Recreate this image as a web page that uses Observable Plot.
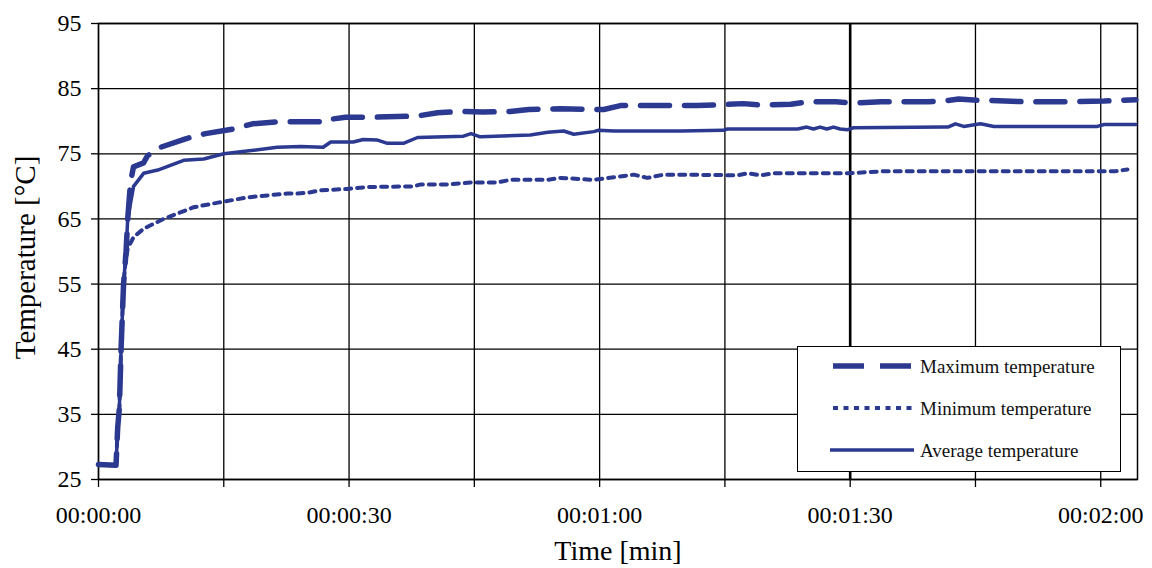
<!DOCTYPE html>
<html>
<head>
<meta charset="utf-8">
<script src="https://cdn.jsdelivr.net/npm/d3@7"></script>
<script src="https://cdn.jsdelivr.net/npm/@observablehq/plot@0.6"></script>
<style>
  html, body { margin: 0; padding: 0; background: #fff; }
  #wrap { position: relative; width: 1152px; height: 568px; }
  #legend { position: absolute; left: 797px; top: 346px; width: 324px; height: 126px;
            border: 1.5px solid #000; background: #fff; box-sizing: border-box; }
</style>
</head>
<body>
<div id="wrap"><div id="chart"></div><div id="legend"></div></div>
<script>
// ---- data (time in seconds, temperature in °C) ----
const avgT = [0, 2.1, 2.3, 2.5, 2.7, 3.0, 3.3, 3.5, 4.2, 5.4, 7.1, 10.2, 12.6, 15.0, 17.0, 21.4, 24.2, 26.9, 27.8, 30.5, 31.7, 33.4, 34.6, 36.5, 38.2, 43.7, 44.6, 45.7, 51.7, 53.8, 55.7, 56.9, 59.3, 59.8, 61.7, 69.7, 74.8, 75.3, 83.7, 84.8, 85.6, 86.4, 87.2, 88.0, 88.8, 89.7, 90.4, 101.2, 101.7, 102.6, 103.6, 105.6, 107.2, 119.6, 120.4, 124.2];
const avgV = [27.3, 27.2, 33, 36, 45, 55, 60, 65, 70, 72, 72.5, 74, 74.2, 75, 75.3, 76, 76.1, 76.0, 76.8, 76.8, 77.2, 77.1, 76.6, 76.6, 77.5, 77.7, 78.1, 77.6, 77.9, 78.3, 78.5, 78.0, 78.4, 78.6, 78.5, 78.5, 78.6, 78.8, 78.8, 79.1, 78.8, 79.1, 78.8, 79.1, 78.8, 78.7, 79.0, 79.1, 79.1, 79.6, 79.2, 79.6, 79.2, 79.2, 79.5, 79.5];

const maxT = [0, 2.1, 2.3, 2.5, 2.7, 3.0, 3.3, 3.5, 3.83, 4.19, 5.39, 5.87, 7.43, 10.42, 12.81, 16.17, 18.44, 21.56, 26.9, 27.2, 29.6, 32.6, 38.2, 40.6, 43.7, 46.0, 49.3, 51.5, 55.3, 60.5, 62.5, 71.7, 73.9, 77.2, 79.3, 82.9, 84.9, 88.3, 90.3, 93.7, 99.3, 101.2, 103.0, 105.3, 106.8, 110.7, 116.0, 120.4, 124.2];
const maxV = [27.3, 27.2, 33, 36, 45, 55, 60, 65, 70.6, 73, 73.6, 74.7, 76, 77.3, 78.1, 78.8, 79.6, 79.9, 79.9, 80.2, 80.6, 80.6, 80.8, 81.3, 81.5, 81.4, 81.5, 81.8, 81.9, 81.8, 82.4, 82.4, 82.5, 82.7, 82.5, 82.6, 83.0, 83.0, 82.8, 83.0, 83.0, 83.1, 83.4, 83.2, 83.2, 83.0, 83.0, 83.1, 83.3];

const minT = [0, 2.1, 2.3, 2.5, 2.7, 3.0, 3.2, 3.5, 4.2, 5.4, 7.8, 11.4, 14.3, 17.8, 22.6, 23.8, 25.0, 26.6, 29.8, 32.2, 37.7, 38.6, 41.8, 44.6, 47.8, 49.3, 53.8, 55.3, 59.3, 61.7, 64.1, 65.7, 67.7, 69.7, 76.5, 77.7, 79.3, 80.8, 89.7, 93.7, 121.6, 123.2];
const minV = [27.3, 27.2, 33, 36, 45, 55, 58, 60.5, 62.2, 63.5, 65, 66.8, 67.5, 68.3, 68.9, 68.9, 69, 69.4, 69.6, 69.9, 70, 70.3, 70.3, 70.6, 70.6, 71, 71, 71.3, 71, 71.4, 71.8, 71.3, 71.8, 71.8, 71.7, 72, 71.7, 72, 72, 72.3, 72.3, 72.6];

const yTicks = [25, 35, 45, 55, 65, 75, 85, 95];
const xTicks = [0, 15, 30, 45, 60, 75, 90, 105, 120];
const seriesNames = ["Maximum temperature", "Minimum temperature", "Average temperature"];
const yLabel = "Temperature [°C]";
const xLabel = "Time [min]";

const color = "#2b3990";
const font = "'Liberation Serif', 'Times New Roman', serif";

const rows = (ts, vs) => ts.map((t, i) => ({t, v: vs[i]}));
const pad = n => String(n).padStart(2, "0");
const fmt = s => (s % 30 === 0) ? `${pad(Math.floor(s / 3600))}:${pad(Math.floor(s / 60) % 60)}:${pad(s % 60)}` : "";

const chart = Plot.plot({
  width: 1152,
  height: 568,
  marginLeft: 98,
  marginRight: 15,
  marginTop: 23,
  marginBottom: 89,
  style: {fontFamily: font, background: "#fff", color: "#000"},
  x: {domain: [0, 124.4], type: "linear"},
  y: {domain: [25, 95]},
  marks: [
    Plot.gridY(yTicks, {stroke: "#000", strokeOpacity: 1, strokeWidth: 1.3}),
    Plot.gridX(xTicks, {stroke: "#000", strokeOpacity: 1, strokeWidth: 1.3}),
    Plot.ruleX([90], {stroke: "#000", strokeWidth: 2.6}),
    Plot.frame({stroke: "#000", strokeWidth: 1.5}),
    Plot.axisY({ticks: yTicks, tickSize: 7, tickPadding: 10, fontSize: 24, label: null, stroke: "#000", strokeWidth: 1.3}),
    Plot.axisX({ticks: xTicks, tickFormat: fmt, tickSize: 8, tickPadding: 18, fontSize: 24, label: null, stroke: "#000", strokeWidth: 1.3}),
    Plot.text([yLabel], {frameAnchor: "left", dx: -73, dy: 6, rotate: -90, textAnchor: "middle", lineAnchor: "middle", fontSize: 29, fill: "#000"}),
    Plot.text([xLabel], {frameAnchor: "bottom", dy: 72, lineAnchor: "middle", fontSize: 28, fill: "#000"}),
    Plot.line(rows(maxT, maxV), {x: "t", y: "v", stroke: color, strokeWidth: 5.5, strokeDasharray: "29,15", strokeLinejoin: "round"}),
    Plot.line(rows(minT, minV), {x: "t", y: "v", stroke: color, strokeWidth: 4, strokeDasharray: "6,6"}),
    Plot.line(rows(avgT, avgV), {x: "t", y: "v", stroke: color, strokeWidth: 3.5, strokeLinejoin: "round"})
  ]
});
document.getElementById("chart").appendChild(chart);

// legend (overlay)
const ns = "http://www.w3.org/2000/svg";
const lg = document.createElementNS(ns, "svg");
lg.setAttribute("width", 322);
lg.setAttribute("height", 124);
lg.style.display = "block";
const styles = [
  {dash: "31,16", w: 5.5, x1: 35, x2: 114},
  {dash: "5,5.5", w: 4, x1: 35, x2: 116},
  {dash: null, w: 3.5, x1: 32, x2: 116}
];
const rowY = [19, 61, 103];
seriesNames.forEach((name, i) => {
  const s = styles[i];
  const ln = document.createElementNS(ns, "line");
  ln.setAttribute("x1", s.x1); ln.setAttribute("x2", s.x2);
  ln.setAttribute("y1", rowY[i]); ln.setAttribute("y2", rowY[i]);
  ln.setAttribute("stroke", color); ln.setAttribute("stroke-width", s.w);
  if (s.dash) ln.setAttribute("stroke-dasharray", s.dash);
  lg.appendChild(ln);
  const tx = document.createElementNS(ns, "text");
  tx.setAttribute("x", 122); tx.setAttribute("y", rowY[i]);
  tx.setAttribute("dy", "0.35em");
  tx.setAttribute("font-family", font);
  tx.setAttribute("font-size", 19);
  tx.setAttribute("fill", "#111");
  tx.textContent = name;
  lg.appendChild(tx);
});
document.getElementById("legend").appendChild(lg);
</script>
</body>
</html>
